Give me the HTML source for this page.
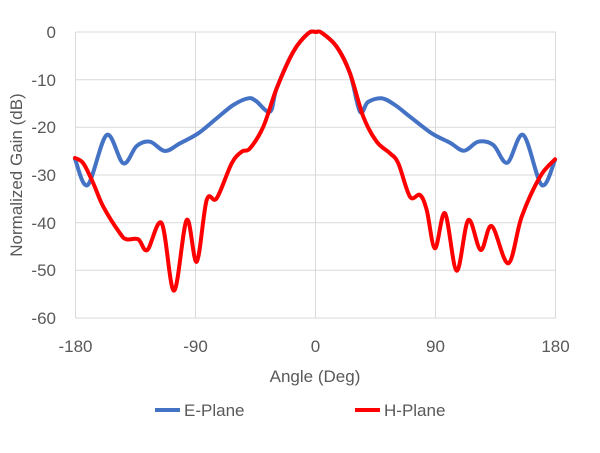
<!DOCTYPE html>
<html><head><meta charset="utf-8"><style>
body{margin:0;background:#fff;}
svg{display:block;font-family:"Liberation Sans",sans-serif;}
</style></head><body>
<svg id="s" width="600" height="453" viewBox="0 0 600 453">
<g stroke="#d9d9d9" stroke-width="1">
<line x1="75.5" y1="32" x2="555.5" y2="32"/>
<line x1="75.5" y1="79.7" x2="555.5" y2="79.7"/>
<line x1="75.5" y1="127.3" x2="555.5" y2="127.3"/>
<line x1="75.5" y1="175" x2="555.5" y2="175"/>
<line x1="75.5" y1="222.7" x2="555.5" y2="222.7"/>
<line x1="75.5" y1="270.3" x2="555.5" y2="270.3"/>
<line x1="75.5" y1="318" x2="555.5" y2="318"/>
<line x1="75.5" y1="32" x2="75.5" y2="318"/>
<line x1="195.5" y1="32" x2="195.5" y2="318"/>
<line x1="315.5" y1="32" x2="315.5" y2="318"/>
<line x1="435.5" y1="32" x2="435.5" y2="318"/>
<line x1="555.5" y1="32" x2="555.5" y2="318"/>
</g>
<g fill="#595959" font-size="17" text-anchor="end">
<text x="56" y="38">0</text>
<text x="56" y="86">-10</text>
<text x="56" y="133">-20</text>
<text x="56" y="181">-30</text>
<text x="56" y="229">-40</text>
<text x="56" y="276">-50</text>
<text x="56" y="324">-60</text>
</g>
<g fill="#595959" font-size="17" text-anchor="middle">
<text x="75.5" y="352">-180</text>
<text x="195.5" y="352">-90</text>
<text x="315.5" y="352">0</text>
<text x="435.5" y="352">90</text>
<text x="555.5" y="352">180</text>
<text x="315" y="382">Angle (Deg)</text>
<text transform="translate(22,175) rotate(-90)">Normalized Gain (dB)</text>
</g>
<path id="b" fill="none" stroke="#4472c4" stroke-width="4" stroke-linejoin="round" stroke-linecap="round"/>
<path id="r" fill="none" stroke="#ff0000" stroke-width="4" stroke-linejoin="round" stroke-linecap="round"/>
<line x1="155" y1="410" x2="180" y2="410" stroke="#4472c4" stroke-width="4"/>
<text x="184" y="416" font-size="17" fill="#595959">E-Plane</text>
<line x1="355" y1="410" x2="380" y2="410" stroke="#ff0000" stroke-width="4"/>
<text x="384" y="416" font-size="17" fill="#595959">H-Plane</text>
</svg>
<script>
function cr(p){var d="M"+p[0][0]+","+p[0][1];for(var i=0;i<p.length-1;i++){var p0=p[i-1]||p[i],p1=p[i],p2=p[i+1],p3=p[i+2]||p2;var t=6;d+=" C"+(p1[0]+(p2[0]-p0[0])/t)+","+(p1[1]+(p2[1]-p0[1])/t)+" "+(p2[0]-(p3[0]-p1[0])/t)+","+(p2[1]-(p3[1]-p1[1])/t)+" "+p2[0]+","+p2[1];}return d;}
var red=[[75,158],[83.3,163.3],[93.3,183.3],[103.3,206.7],[120,233.3],[126.7,239.3],[138.3,239.3],[147.3,250],[161.7,223.3],[174,290.7],[186.7,220],[196.7,261.7],[206.7,200],[216.7,198.3],[231.7,163.3],[241.7,151.7],[250,148.3],[263.3,126.7],[276.7,88.3],[293.3,51.7],[308.3,33.3],[316,32],[321.7,32.7],[336.7,46.7],[350,73.3],[363.3,116.7],[376.7,141.7],[390,153.3],[398.3,163.3],[410,196.7],[420,195],[426.7,210],[435,248.3],[445,213.3],[456.7,270.7],[468.3,220],[480.7,250],[491.7,226],[508.3,263.3],[521.7,216.7],[540,176.7],[555,159.3]];
var blue=[[75,159],[87.7,185],[106.7,135],[123.3,163.3],[136.7,146],[150,141.7],[165,151],[180,143.3],[198.3,133.3],[216.7,118.3],[233.3,105],[248.3,98.3],[256,101],[270,111.7],[276.7,88.3],[293.3,51.7],[308.3,33.3],[316,32],[321.7,32.7],[336.7,46.7],[350,73.3],[360,111.7],[368,102],[381.7,98.3],[395,105],[410,116.7],[431.7,133.3],[450,142.7],[464,150.7],[478.3,141.7],[493.3,145],[507.3,162.7],[523.3,135],[541.7,185],[555,160]];
document.getElementById("r").setAttribute("d",cr(red));
document.getElementById("b").setAttribute("d",cr(blue));
</script>
</body></html>
